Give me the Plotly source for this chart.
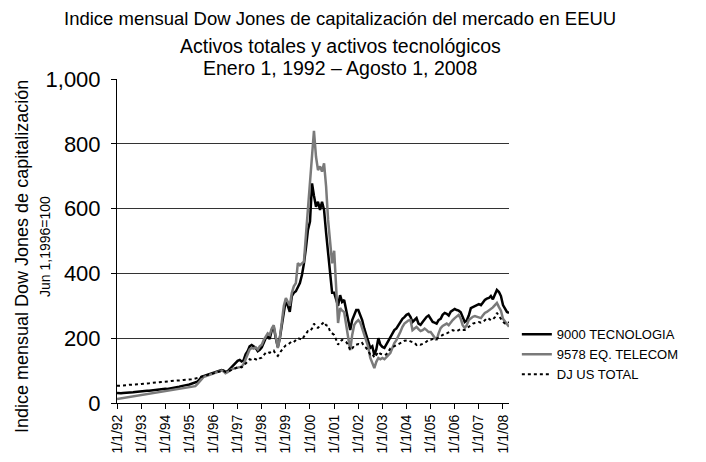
import pandas as pd
import plotly.graph_objects as go

# Monthly index values, Jan 1992 - Apr 2008 (Jun 1, 1996 = 100)
tecnologia = [
    31, 30, 30, 31, 31, 32, 32, 33, 33, 34, 35, 35,
    36, 36, 37, 38, 38, 39, 40, 41, 42, 42, 43, 43,
    44, 43, 44, 45, 45, 46, 48, 50, 52, 54, 55, 56,
    57, 59, 60, 62, 66, 72, 80, 83, 85, 86, 88, 90,
    92, 94, 96, 98, 102, 100, 95, 98, 105, 112, 118, 125,
    130, 133, 128, 132, 150, 160, 175, 179, 175, 170, 160, 164,
    172, 190, 200, 205, 198, 225, 235, 200, 173, 200, 235, 280,
    318, 300, 281, 330, 340, 345, 358, 370, 395, 430, 480, 534,
    560, 678, 640, 606, 621, 596, 621, 596, 525, 470, 410, 340,
    340, 320, 300, 333, 312, 318, 290, 260, 225, 256, 275, 287,
    287, 270, 256, 230, 210, 194, 170, 175, 148, 165, 200, 180,
    173, 170, 180, 194, 205, 215, 225, 230, 240, 250, 260, 265,
    272, 275, 266, 250, 255, 262, 245, 241, 250, 258, 266, 270,
    258, 250, 248, 245, 256, 260, 272, 278, 275, 270, 282, 287,
    290, 287, 285, 280, 262, 250, 255, 270, 293, 296, 300, 302,
    305, 302, 310, 318, 322, 324, 330, 320, 335, 349, 343, 330,
    302, 290, 281, 278,
]

telecom = [
    12, 13, 14, 15, 16, 17, 18, 19, 20, 21, 22, 23,
    24, 25, 26, 27, 28, 29, 30, 31, 32, 33, 34, 35,
    37, 37, 38, 40, 41, 42, 43, 44, 45, 46, 47, 48,
    49, 50, 50, 52, 58, 66, 75, 80, 82, 84, 86, 88,
    90, 92, 95, 97, 100, 98, 92, 95, 100, 104, 106, 108,
    108, 110, 112, 120, 135, 150, 165, 170, 168, 172, 165, 175,
    180, 195, 205, 215, 210, 230, 240, 210, 170, 200, 245, 300,
    324, 310, 300, 340, 360, 370, 432, 425, 431, 436, 520, 600,
    663, 750, 840, 760, 719, 730, 714, 740, 668, 565, 482, 431,
    470, 360, 247, 293, 285, 281, 240, 200, 163, 210, 241, 250,
    256, 248, 231, 215, 195, 173, 140, 123, 108, 127, 139, 135,
    139, 135, 140, 148, 154, 170, 185, 194, 205, 220, 235, 245,
    250, 255, 256, 225, 230, 235, 228, 222, 225, 230, 225, 219,
    219, 210, 200, 194, 215, 231, 238, 241, 245, 240, 250, 256,
    262, 268, 272, 260, 240, 231, 240, 256, 262, 266, 268, 266,
    266, 262, 270, 278, 281, 285, 290, 295, 302, 309, 296, 285,
    260, 250, 241, 235,
]

dj_total = [
    53, 53, 54, 54, 55, 55, 56, 56, 57, 57, 58, 58,
    59, 59, 60, 61, 61, 62, 62, 63, 64, 64, 65, 65,
    66, 67, 67, 68, 68, 69, 69, 70, 70, 71, 71, 72,
    72, 73, 74, 75, 77, 79, 81, 83, 85, 86, 88, 90,
    92, 93, 95, 97, 99, 100, 96, 97, 100, 103, 106, 108,
    110, 112, 110, 115, 122, 128, 135, 133, 137, 135, 132, 138,
    140, 148, 155, 158, 155, 160, 162, 150, 145, 155, 165, 172,
    178, 180, 185, 190, 188, 195, 200, 198, 195, 205, 212, 222,
    222, 230, 245, 235, 232, 238, 245, 250, 240, 238, 220, 215,
    210, 195, 180, 190, 195, 192, 188, 180, 163, 168, 178, 180,
    182, 180, 185, 175, 170, 160, 150, 152, 140, 148, 158, 152,
    150, 148, 150, 160, 168, 172, 175, 178, 180, 185, 188, 192,
    192, 193, 190, 188, 186, 179, 182, 180, 182, 185, 190, 195,
    195, 198, 200, 198, 202, 206, 212, 214, 215, 218, 222, 225,
    222, 222, 225, 228, 225, 225, 230, 235, 240, 245, 247, 248,
    250, 248, 250, 255, 262, 260, 255, 258, 265, 278, 268, 260,
    250, 245, 245, 250,
]

series_names = ["9000 TECNOLOGIA", "9578 EQ. TELECOM", "DJ US TOTAL"]
tick_years = list(range(1992, 2009))
tick_labels = ["1/1/%02d" % (y % 100) for y in tick_years]
title_lines = [
    "Indice mensual Dow Jones de capitalización del mercado en EEUU",
    "Activos totales y activos tecnológicos",
    "Enero 1, 1992 – Agosto 1, 2008",
]
y_title = "Indice mensual Dow Jones de capitalización"
y_subtitle = "Jun 1,1996=100"

dates = pd.date_range("1992-01-01", periods=len(tecnologia), freq="MS")
tick_dates = [pd.Timestamp(y, 1, 1) for y in tick_years]

FONT = "Liberation Sans, Arial, sans-serif"

fig = go.Figure()
fig.add_trace(go.Scatter(x=dates, y=tecnologia, mode="lines", name=series_names[0],
                         line=dict(color="#000000", width=2.5)))
fig.add_trace(go.Scatter(x=dates, y=telecom, mode="lines", name=series_names[1],
                         line=dict(color="#7a7a7a", width=2.5)))
fig.add_trace(go.Scatter(x=dates, y=dj_total, mode="lines", name=series_names[2],
                         line=dict(color="#000000", width=2, dash="dot")))

W, H = 706, 462
L, R, T, B = 117, 509, 79, 403

fig.update_layout(
    width=W, height=H,
    margin=dict(l=L, r=W - R, t=T, b=H - B),
    paper_bgcolor="white", plot_bgcolor="white",
    font=dict(family=FONT, color="#000000"),
    showlegend=True,
    legend=dict(x=1.02, y=0.258, xanchor="left", yanchor="top",
                font=dict(size=13, family=FONT, color="#000000"),
                bgcolor="rgba(0,0,0,0)", tracegroupgap=0),
)

fig.update_xaxes(
    type="date", range=[dates[0], dates[-1]],
    tickvals=tick_dates, ticktext=tick_labels, tickangle=-90,
    tickfont=dict(size=14, family=FONT, color="#000000"),
    showgrid=False, zeroline=False, automargin=False,
    showline=True, linecolor="#000000", linewidth=1,
    ticks="outside", ticklen=5, tickcolor="#000000", tickwidth=1,
)
fig.update_yaxes(
    range=[0, 1000], dtick=200, tickformat=",",
    tickfont=dict(size=22, family=FONT, color="#000000"),
    showgrid=True, gridcolor="#333333", gridwidth=1,
    zeroline=False, automargin=False,
    showline=True, linecolor="#000000", linewidth=1,
    ticks="outside", ticklen=5, tickcolor="#000000", tickwidth=1,
    ticklabelstandoff=6,
)

title_y = [18, 46, 68]
title_sizes = [18.5, 19.5, 19.5]
for txt, yp, fs in zip(title_lines, title_y, title_sizes):
    fig.add_annotation(text=txt, xref="paper", yref="paper",
                       x=(340 - L) / (R - L), y=(B - yp) / (B - T),
                       xanchor="center", yanchor="middle", showarrow=False,
                       font=dict(size=fs, family=FONT, color="#000000"))

fig.add_annotation(text=y_title, xref="paper", yref="paper",
                   x=(22 - L) / (R - L), y=(B - 257) / (B - T),
                   xanchor="center", yanchor="middle", textangle=-90, showarrow=False,
                   font=dict(size=18, family=FONT, color="#000000"))
fig.add_annotation(text=y_subtitle, xref="paper", yref="paper",
                   x=(45 - L) / (R - L), y=(B - 247) / (B - T),
                   xanchor="center", yanchor="middle", textangle=-90, showarrow=False,
                   font=dict(size=14, family=FONT, color="#000000"))

fig.write_html("out.html", config={"displayModeBar": False},
               post_script="document.body.style.margin='0';")
